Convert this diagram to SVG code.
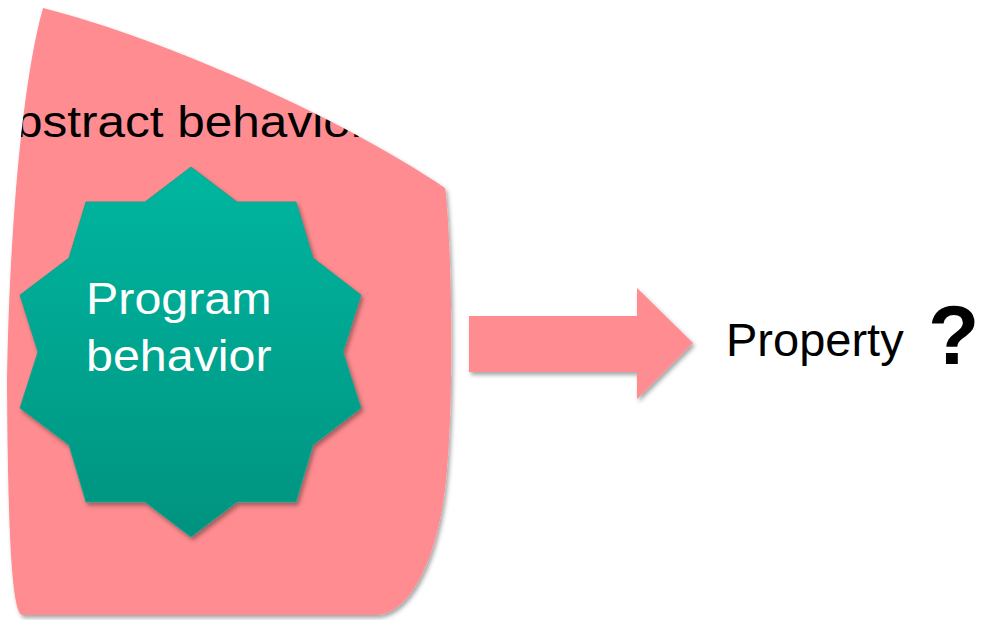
<svg xmlns="http://www.w3.org/2000/svg" width="991" height="620" viewBox="0 0 991 620">
  <style>
    .label { font-family: "Liberation Sans", Arial, sans-serif; }
    .dark { fill: #000000; }
    .light { fill: #ffffff; }
    .pink { fill: #FE8C90; }
  </style>
  <defs>
    <filter id="shadow" x="-10%" y="-10%" width="125%" height="125%">
      <feDropShadow dx="2" dy="3" stdDeviation="2.2" flood-color="#000000" flood-opacity="0.35"/>
    </filter>
    <linearGradient id="tealFill" x1="0" y1="0" x2="0" y2="1">
      <stop offset="0" stop-color="#00B6A0"/>
      <stop offset="1" stop-color="#00937F"/>
    </linearGradient>
    <path id="blobShape" d="M43,8 C150,35 330,110 445,188 L446,195 C452,260 454,400 446,480 C438,560 410,612 378,615 L22,615 C14,612 8,570 7,380 C9,250 20,90 43,8 Z"/>
    <clipPath id="blobClip">
      <use href="#blobShape"/>
    </clipPath>
  </defs>

  <!-- outer region: abstract behavior, its label clipped to the region -->
  <g id="abstract-behavior">
    <use href="#blobShape" class="pink" filter="url(#shadow)"/>
    <g clip-path="url(#blobClip)">
      <text class="label dark" font-size="45" transform="translate(-18,137) scale(1.1,1)">Abstract behavior</text>
    </g>
  </g>

  <!-- inner region: program behavior -->
  <g id="program-behavior">
    <polygon points="191,167 237,202 296,202 313,258 361,295 343,352 361,408 313,445 296,502 237,502 191,537 145,502 86,502 69,445 20,408 38,352 20,295 69,258 86,202 145,202"
             fill="url(#tealFill)" stroke="#1FA08C" stroke-width="1" filter="url(#shadow)"/>
    <text class="label light" font-size="44" transform="translate(86,314) scale(1.1,1)">Program</text>
    <text class="label light" font-size="44" transform="translate(86,371) scale(1.1,1)">behavior</text>
  </g>

  <!-- connector -->
  <g id="connectors">
    <polygon class="pink" filter="url(#shadow)" points="469,316 637,316 637,288 693,343 637,399 637,372 469,372"/>
  </g>

  <!-- target -->
  <g id="property">
    <text class="label dark" x="726" y="356" font-size="47">Property</text>
  </g>
  <g id="question">
    <text class="label dark" x="928" y="364" font-size="84" font-weight="bold">?</text>
  </g>
</svg>
